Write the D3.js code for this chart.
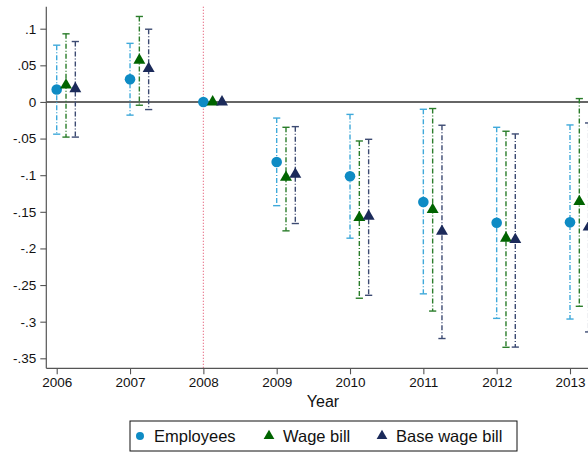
<!DOCTYPE html>
<html><head><meta charset="utf-8">
<script src="https://cdn.jsdelivr.net/npm/d3@7"></script>
<style>body{margin:0;background:#fff}svg{display:block}text{font-family:"Liberation Sans",Arial,sans-serif}</style>
</head><body>
<svg id="c" width="588" height="452"></svg>
<script>
const years = [2006, 2007, 2008, 2009, 2010, 2011, 2012, 2013];
const yTicks = [0.1, 0.05, 0, -0.05, -0.1, -0.15, -0.2, -0.25, -0.3, -0.35];
const yTickLabels = [".1", ".05", "0", "-.05", "-.1", "-.15", "-.2", "-.25", "-.3", "-.35"];
const employees = [0.017, 0.031, 0, -0.082, -0.1015, -0.1366, -0.165, -0.1643];
const employeesLo = [-0.044, -0.018, 0, -0.1416, -0.186, -0.262, -0.2955, -0.2964];
const employeesHi = [0.0775, 0.080, 0, -0.022, -0.017, -0.010, -0.0346, -0.0314];
const wageBill = [0.023, 0.057, 0, -0.103, -0.158, -0.147, -0.186, -0.136];
const wageBillLo = [-0.048, -0.0045, 0, -0.176, -0.268, -0.2855, -0.335, -0.279];
const wageBillHi = [0.093, 0.1167, 0, -0.0346, -0.0533, -0.009, -0.04, 0.0046];
const baseWage = [0.018, 0.0456, 0, -0.0988, -0.156, -0.1766, -0.188, -0.1707];
const baseWageLo = [-0.048, -0.0104, 0, -0.166, -0.264, -0.323, -0.3347, -0.314];
const baseWageHi = [0.0825, 0.0993, 0, -0.0337, -0.051, -0.0318, -0.0437, -0.0287];
const seriesNames = ["Employees", "Wage bill", "Base wage bill"];

(function () {
const svg = d3.select("#c");
const x = d3.scaleLinear().domain([2006, 2013]).range([56.7, 570]);
const y = d3.scaleLinear().domain([0.1, -0.35]).range([28.7, 358.3]);
const pLeft = 46.3, pBottom = 368.3, pTop = 6.7, pRight = 600;

const series = [
  {name: seriesNames[0], v: employees, lo: employeesLo, hi: employeesHi, off: 0, shape: d3.symbolCircle, size: 88, mc: "#0e8bc4", lc: "#3fa9da"},
  {name: seriesNames[1], v: wageBill, lo: wageBillLo, hi: wageBillHi, off: 0.127, shape: d3.symbolTriangle, size: 62, mc: "#006400", lc: "#2a7d2a"},
  {name: seriesNames[2], v: baseWage, lo: baseWageLo, hi: baseWageHi, off: 0.254, shape: d3.symbolTriangle, size: 62, mc: "#1b2a5a", lc: "#3c4a72"}
];

svg.append("line").attr("x1", x(2008)).attr("x2", x(2008)).attr("y1", pTop).attr("y2", pBottom)
  .attr("stroke", "#e2506c").attr("stroke-width", 1.1).attr("stroke-dasharray", "1,2");

svg.append("line").attr("x1", pLeft).attr("x2", pRight).attr("y1", y(0)).attr("y2", y(0))
  .attr("stroke", "#333").attr("stroke-width", 1.6);

const yAxis = d3.axisLeft(y).tickValues(yTicks).tickFormat((d, i) => yTickLabels[i]).tickSize(6).tickPadding(4);
const gy = svg.append("g").attr("transform", `translate(${pLeft},0)`).call(yAxis);
gy.select(".domain").remove();
gy.append("line").attr("x1", 0).attr("x2", 0).attr("y1", pTop).attr("y2", pBottom).attr("stroke", "#555").attr("stroke-width", 1.2);
gy.selectAll(".tick line").attr("stroke", "#555").attr("stroke-width", 1.1);
gy.selectAll(".tick text").attr("font-size", 13.5).attr("fill", "#111");

const xAxis = d3.axisBottom(x).tickValues(years).tickFormat(d3.format("d")).tickSize(6).tickPadding(3);
const gx = svg.append("g").attr("transform", `translate(0,${pBottom})`).call(xAxis);
gx.select(".domain").remove();
gx.append("line").attr("x1", pLeft).attr("x2", pRight).attr("y1", 0).attr("y2", 0).attr("stroke", "#555").attr("stroke-width", 1.2);
gx.selectAll(".tick line").attr("stroke", "#555").attr("stroke-width", 1.1);
gx.selectAll(".tick text").attr("font-size", 13.5).attr("fill", "#111");

svg.append("text").attr("x", 323).attr("y", 407).attr("text-anchor", "middle").attr("font-size", 16).attr("fill", "#111").text("Year");

series.forEach(s => {
  const g = svg.append("g");
  years.forEach((yr, i) => {
    if (s.lo[i] === s.hi[i]) return;
    const cx = x(yr + s.off);
    g.append("line").attr("x1", cx).attr("x2", cx).attr("y1", y(s.hi[i])).attr("y2", y(s.lo[i]))
      .attr("stroke", s.lc).attr("stroke-width", 1.4).attr("stroke-dasharray", "5,2,1,2");
    [s.hi[i], s.lo[i]].forEach(v => {
      g.append("line").attr("x1", cx - 3.6).attr("x2", cx + 3.6).attr("y1", y(v)).attr("y2", y(v))
        .attr("stroke", s.lc).attr("stroke-width", 1.4);
    });
  });
});
series.forEach(s => {
  const g = svg.append("g");
  years.forEach((yr, i) => {
    g.append("path").attr("d", d3.symbol().type(s.shape).size(s.size)())
      .attr("transform", `translate(${x(yr + s.off)},${y(s.v[i])})`).attr("fill", s.mc);
  });
});

const lg = svg.append("g");
lg.append("rect").attr("x", 130).attr("y", 421).attr("width", 387).attr("height", 30)
  .attr("fill", "#fff").attr("stroke", "#111").attr("stroke-width", 1);
const legX = [140, 269, 382];
series.forEach((s, i) => {
  lg.append("path").attr("d", d3.symbol().type(s.shape).size(i === 0 ? 50 : 50)())
    .attr("transform", `translate(${legX[i]},436)`).attr("fill", s.mc);
  lg.append("text").attr("x", legX[i] + 14).attr("y", 442).attr("font-size", 16.5).attr("fill", "#111").text(s.name);
});
})();
</script>
</body></html>
